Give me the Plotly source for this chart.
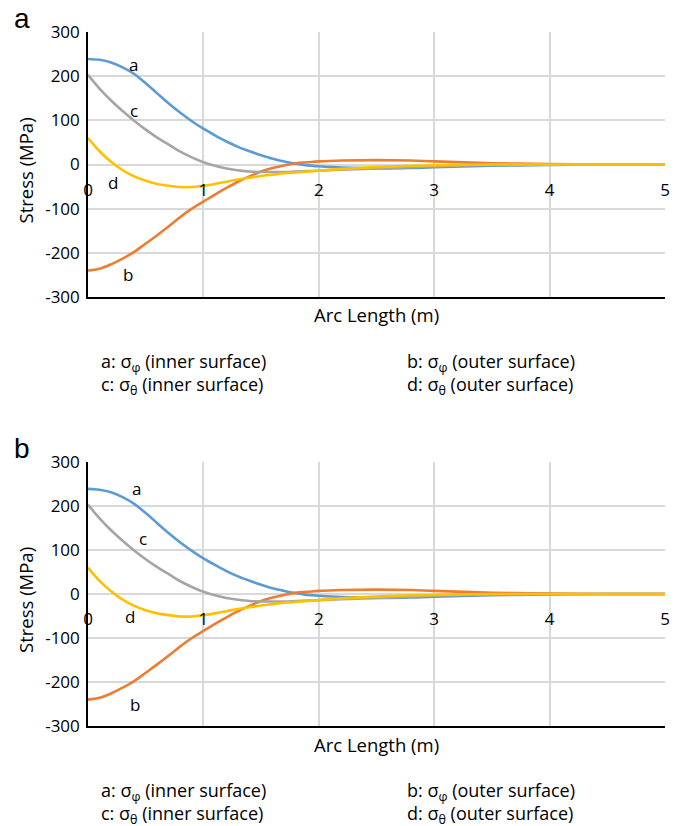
import plotly.graph_objects as go

# the page places the figure 8px in from the top-left corner
OFF = 8
W, H = 680 - OFF, 826 - OFF

# ---- data ----
arc_length = [0, 0.1, 0.2, 0.3, 0.4, 0.5, 0.6, 0.7, 0.8, 0.9, 1.0, 1.1, 1.2, 1.3, 1.4,
              1.5, 1.6, 1.7, 1.8, 1.9, 2.0, 2.2, 2.5, 2.8, 3.0, 3.5, 4.0, 4.5, 5.0]
sigma_phi_inner = [239, 237, 231, 220, 205, 184, 161, 138, 117, 98, 81, 66, 52, 40, 30,
                   21, 13, 7, 2, -2, -4, -7, -9, -8, -6, -3, -1, 0, 0]
sigma_phi_outer = [-240, -236, -226, -213, -198, -179, -160, -140, -119, -100, -84, -68, -53, -39, -27,
                   -16, -8, -2, 3, 5, 7, 9, 10, 9, 7, 3, 1, 0, 0]
sigma_theta_inner = [203, 172, 145, 121, 99, 79, 61, 45, 29, 16, 5, -3, -9, -13, -16,
                     -17, -17, -17, -16, -15, -14, -12, -9, -6, -4, -1, 0, 0, 0]
sigma_theta_outer = [60, 30, 6, -13, -27, -37, -44, -48, -51, -51, -48, -44, -39, -34, -30,
                     -26, -23, -20, -18, -16, -14, -10, -6, -3, -2, 0, 0, 0, 0]

series = [
    ("a", sigma_phi_inner, "#5b9bd5"),
    ("b", sigma_phi_outer, "#ed7d31"),
    ("c", sigma_theta_inner, "#a5a5a5"),
    ("d", sigma_theta_outer, "#ffc000"),
]

x_ticks = [0, 1, 2, 3, 4, 5]
y_ticks = [-300, -200, -100, 0, 100, 200, 300]
y_tick_text = ["-300", "-200", "-100", "0", "100", "200", "300"]
legend_left = ["a: σ<sub>φ</sub> (inner surface)", "c: σ<sub>θ</sub> (inner surface)"]
legend_right = ["b: σ<sub>φ</sub> (outer surface)", "d: σ<sub>θ</sub> (outer surface)"]
curve_labels = {
    "a": [("a", 0.39, 226), ("c", 0.40, 122), ("d", 0.22, -41), ("b", 0.35, -248)],
    "b": [("a", 0.42, 240), ("c", 0.48, 127), ("d", 0.365, -52), ("b", 0.41, -252)],
}

FONT = "'Open Sans', sans-serif"
TICK_SIZE = 17
TEXT_SIZE = 18.5
LEGEND_SIZE = 18

def py(p):
    return 1 - (p - OFF) / H

def px(p):
    return (p - OFF) / W

panels = [
    ("a", 32, 297),
    ("b", 462, 726),
]
x_left, x_right = 88, 665

fig = go.Figure()
annotations = []
layout = dict(
    width=W, height=H, autosize=False,
    margin=dict(l=0, r=0, t=0, b=0, pad=0, autoexpand=False),
    paper_bgcolor="white", plot_bgcolor="white",
    showlegend=False,
    font=dict(family=FONT, size=16, color="#000000"),
)

for i, (name, top, bottom) in enumerate(panels):
    xa = "x" if i == 0 else f"x{i+1}"
    ya = "y" if i == 0 else f"y{i+1}"
    xl = "xaxis" if i == 0 else f"xaxis{i+1}"
    yl = "yaxis" if i == 0 else f"yaxis{i+1}"
    lab_x = f"x{i+3}"
    lab_xl = f"xaxis{i+3}"

    for lbl, vals, col in series:
        fig.add_trace(go.Scatter(
            x=arc_length, y=vals, mode="lines", xaxis=xa, yaxis=ya,
            line=dict(color=col, width=2.6, shape="spline", smoothing=1.0),
            hoverinfo="skip", name=lbl,
        ))
    fig.add_trace(go.Scatter(x=[None], y=[None], xaxis=lab_x, yaxis=ya,
                             mode="lines", hoverinfo="skip"))

    ydom = [py(bottom), py(top)]
    layout[xl] = dict(
        domain=[px(x_left), px(x_right)], anchor=ya, range=[0, 5], automargin=False,
        tickvals=x_ticks, showticklabels=False, ticks="",
        showgrid=True, gridcolor="#d9d9d9", gridwidth=1.5,
        showline=True, linecolor="#000000", linewidth=1.6,
        zeroline=False, fixedrange=True,
    )
    layout[yl] = dict(
        domain=ydom, anchor=xa, range=[-300, 300], automargin=False,
        tickvals=y_ticks, ticktext=y_tick_text, ticks="", ticklabelstandoff=3,
        tickfont=dict(family=FONT, size=TICK_SIZE, color="#000000"),
        showgrid=True, gridcolor="#d9d9d9", gridwidth=1.5,
        showline=True, linecolor="#000000", linewidth=1.6,
        zeroline=False, fixedrange=True,
    )
    zero_pos = ydom[0] + 0.5 * (ydom[1] - ydom[0])
    layout[lab_xl] = dict(
        overlaying=xa, anchor="free", position=zero_pos, side="bottom",
        range=[0, 5], tickvals=x_ticks, ticks="", automargin=False,
        ticklabelstandoff=13,
        tickfont=dict(family=FONT, size=TICK_SIZE, color="#000000"),
        showgrid=False, showline=False, zeroline=False, fixedrange=True,
    )

    annotations.append(dict(text=name, xref="paper", yref="paper",
                            x=px(12), y=py(top - 14), xanchor="left", yanchor="middle",
                            showarrow=False, font=dict(family="Liberation Sans, Arial", size=28)))
    annotations.append(dict(text="Stress (MPa)", xref="paper", yref="paper",
                            x=px(25), y=py((top + bottom) / 2 + 6), textangle=-90,
                            xanchor="center", yanchor="middle", showarrow=False,
                            font=dict(family=FONT, size=TEXT_SIZE)))
    annotations.append(dict(text="Arc Length (m)", xref="paper", yref="paper",
                            x=px(376), y=py(bottom + 18), xanchor="center", yanchor="middle",
                            showarrow=False, font=dict(family=FONT, size=TEXT_SIZE)))
    yy = py(bottom + 77)
    annotations.append(dict(text="<br>".join(legend_left), xref="paper", yref="paper",
                            x=px(99), y=yy, xanchor="left", yanchor="middle", align="left",
                            showarrow=False, font=dict(family=FONT, size=LEGEND_SIZE)))
    annotations.append(dict(text="<br>".join(legend_right), xref="paper", yref="paper",
                            x=px(405), y=yy, xanchor="left", yanchor="middle", align="left",
                            showarrow=False, font=dict(family=FONT, size=LEGEND_SIZE)))
    for t, cx, cy in curve_labels[name]:
        annotations.append(dict(text=t, xref=xa, yref=ya, x=cx, y=cy,
                                xanchor="center", yanchor="middle", showarrow=False,
                                font=dict(family=FONT, size=17)))

layout["annotations"] = annotations
fig.update_layout(**layout)
fig.write_html("out.html", config={"displayModeBar": False})
